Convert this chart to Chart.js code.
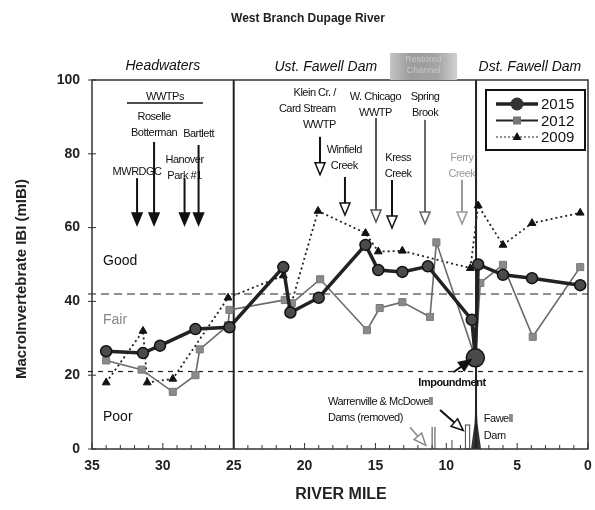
<!DOCTYPE html>
<html>
<head>
<meta charset="utf-8">
<script src="https://cdn.jsdelivr.net/npm/chart.js@4.4.1/dist/chart.umd.min.js"></script>
<style>
  html, body { margin: 0; padding: 0; background: #fff; }
  #wrap { width: 595px; height: 510px; }
</style>
</head>
<body>
<div id="wrap"><canvas id="mibiChart" width="595" height="510"></canvas></div>
<script>
// River mile / mIBI score pairs
const miles2015 = [34.0, 31.4, 30.2, 27.7, 25.3, 21.5, 21.0, 19.0, 15.7, 14.8, 13.1, 11.3, 8.2, 7.95, 7.75, 6.0, 3.95, 0.55];
const ibi2015   = [26.5, 26, 28, 32.5, 33, 49.3, 37, 41, 55.3, 48.5, 48, 49.5, 35, 24.7, 50, 47.2, 46.3, 44.4];

const miles2012 = [34.0, 31.5, 29.3, 27.7, 27.4, 25.4, 25.3, 21.4, 20.9, 18.9, 15.6, 14.7, 13.1, 11.15, 10.7, 7.95, 7.6, 6.0, 3.9, 0.55];
const ibi2012   = [24, 21.5, 15.5, 20, 27, 33.5, 37.7, 40.4, 39.5, 46, 32.2, 38.2, 39.8, 35.8, 56, 24.7, 45, 49.9, 30.4, 49.3];

const miles2009 = [34.0, 31.4, 31.1, 29.3, 25.4, 21.5, 21.0, 19.05, 15.7, 14.8, 13.1, 8.3, 7.75, 6.0, 3.95, 0.55];
const ibi2009   = [18, 32, 18, 19, 41, 47, 38.5, 64.5, 58.5, 53.5, 53.7, 49, 66, 55.3, 61.2, 64];

const xTicks = [35, 30, 25, 20, 15, 10, 5, 0];
const yTicks = [0, 20, 40, 60, 80, 100];
const ratingBreaks = [42, 21];          // Good/Fair, Fair/Poor
const ratingLabels = [['Good', 51], ['Fair', 35], ['Poor', 8.5]];
const sectionDividers = [25, 7.9];      // headwaters end, Fawell Dam
const impoundmentMile = 7.95;

const FONT = '"Liberation Sans", Arial, sans-serif';

function pts(xs, ys) {
    return xs.map((x, i) => ({ x: x, y: ys[i] }));
}

// annotation callouts (mile, score)
const wwtpArrows = [
    { label: ['MWRDGC'], m: 31.82, tv: 75.1, from: 73.4 },
    { label: ['Roselle', 'Botterman'], m: 30.62, tv: 90, from: 83.2 },
    { label: ['Hanover', 'Park #1'], m: 28.47, tv: 78.3, from: 73.4 },
    { label: ['Bartlett'], m: 27.48, tv: 85.4, from: 82.4 }
];
const inflowArrows = [
    { label: ['Klein Cr. /', 'Card Stream', 'WWTP'], tm: 17.8, tv: 96.5, align: 'right', m: 18.91, from: 84.6, to: 74.3, color: '#111' },
    { label: ['Winfield', 'Creek'], tm: 17.2, tv: 81, align: 'center', m: 17.15, from: 73.7, to: 63.4, color: '#111' },
    { label: ['W. Chicago', 'WWTP'], tm: 15.0, tv: 95.4, align: 'center', m: 14.96, from: 89.7, to: 61.5, color: '#555' },
    { label: ['Kress', 'Creek'], tm: 13.4, tv: 78.9, align: 'center', m: 13.83, from: 72.9, to: 59.9, color: '#111' },
    { label: ['Spring', 'Brook'], tm: 11.5, tv: 95.4, align: 'center', m: 11.5, from: 89.2, to: 61, color: '#666' },
    { label: ['Ferry', 'Creek'], tm: 8.9, tv: 78.9, align: 'center', m: 8.89, from: 72.9, to: 61, color: '#999' }
];

function arrow(ctx, x1, y1, x2, y2, hollow, color, lw) {
    const ang = Math.atan2(y2 - y1, x2 - x1);
    const hl = 12, hw = 5;
    const bx = x2 - hl * Math.cos(ang), by = y2 - hl * Math.sin(ang);
    ctx.strokeStyle = color;
    ctx.lineWidth = lw || 2;
    ctx.beginPath(); ctx.moveTo(x1, y1); ctx.lineTo(bx, by); ctx.stroke();
    ctx.beginPath();
    ctx.moveTo(x2, y2);
    ctx.lineTo(bx + hw * Math.sin(ang), by - hw * Math.cos(ang));
    ctx.lineTo(bx - hw * Math.sin(ang), by + hw * Math.cos(ang));
    ctx.closePath();
    ctx.fillStyle = hollow ? '#fff' : color;
    ctx.fill();
    ctx.lineWidth = 1.5;
    ctx.stroke();
}

function lines(ctx, arr, x, y, lh) {
    arr.forEach((t, i) => ctx.fillText(t, x, y + i * lh));
}

const overlay = {
    id: 'overlay',
    beforeDatasetsDraw(chart) {
        const { ctx, chartArea: a, scales: { x, y } } = chart;
        ctx.save();
        // rating thresholds
        ctx.strokeStyle = '#222';
        ctx.lineWidth = 1.2;
        ratingBreaks.forEach((b, i) => {
            ctx.setLineDash(i === 0 ? [8, 5] : [5, 5]);
            const py = y.getPixelForValue(b);
            ctx.beginPath(); ctx.moveTo(a.left - 4, py); ctx.lineTo(a.right, py); ctx.stroke();
        });
        ctx.setLineDash([]);
        // rating labels
        ctx.font = '14px ' + FONT;
        ctx.textAlign = 'left';
        ctx.textBaseline = 'middle';
        ratingLabels.forEach(([t, v]) => {
            ctx.fillStyle = t === 'Fair' ? '#888' : '#111';
            ctx.fillText(t, a.left + 11, y.getPixelForValue(v));
        });
        // dams near the bottom
        ctx.strokeStyle = '#444';
        ctx.lineWidth = 1;
        [11.0, 10.8].forEach(m => {
            const px = x.getPixelForValue(m);
            ctx.beginPath(); ctx.moveTo(px, a.bottom); ctx.lineTo(px, y.getPixelForValue(6)); ctx.stroke();
        });
        let px = x.getPixelForValue(9.6);
        ctx.beginPath(); ctx.moveTo(px, a.bottom); ctx.lineTo(px, y.getPixelForValue(2.4)); ctx.stroke();
        const r1 = x.getPixelForValue(8.65), r2 = x.getPixelForValue(8.35);
        ctx.strokeRect(r1, y.getPixelForValue(6.5), r2 - r1, a.bottom - y.getPixelForValue(6.5));
        // Fawell dam spike
        px = x.getPixelForValue(sectionDividers[1]);
        ctx.fillStyle = '#333';
        ctx.beginPath();
        ctx.moveTo(px - 5, a.bottom);
        ctx.lineTo(px - 1.5, y.getPixelForValue(7));
        ctx.lineTo(px, y.getPixelForValue(14.6));
        ctx.lineTo(px + 1.5, y.getPixelForValue(7));
        ctx.lineTo(px + 5, a.bottom);
        ctx.closePath();
        ctx.fill();
        // section dividers
        ctx.strokeStyle = '#222';
        ctx.lineWidth = 2;
        sectionDividers.forEach(m => {
            const p = x.getPixelForValue(m);
            ctx.beginPath(); ctx.moveTo(p, a.top); ctx.lineTo(p, a.bottom); ctx.stroke();
        });
        ctx.restore();
    },
    afterDatasetsDraw(chart) {
        const { ctx, chartArea: a, scales: { x, y } } = chart;
        ctx.save();
        // frame
        ctx.strokeStyle = '#333';
        ctx.lineWidth = 1.5;
        ctx.strokeRect(a.left, a.top, a.right - a.left, a.bottom - a.top);
        // ticks
        ctx.lineWidth = 1;
        for (let m = 0; m <= 35; m++) {
            const p = x.getPixelForValue(m);
            ctx.beginPath(); ctx.moveTo(p, a.bottom); ctx.lineTo(p, a.bottom - (m % 5 === 0 ? 6 : 4)); ctx.stroke();
        }
        yTicks.forEach(v => {
            const p = y.getPixelForValue(v);
            ctx.beginPath(); ctx.moveTo(a.left - 4, p); ctx.lineTo(a.left + 4, p); ctx.stroke();
        });

        // section headers
        ctx.font = 'italic 14px ' + FONT;
        ctx.fillStyle = '#111';
        ctx.textAlign = 'center';
        ctx.textBaseline = 'middle';
        ctx.fillText('Headwaters', x.getPixelForValue(30.0), 66);
        ctx.fillText('Ust. Fawell Dam', x.getPixelForValue(18.5), 67);
        ctx.fillText('Dst. Fawell Dam', x.getPixelForValue(4.1), 67);
        const b1 = x.getPixelForValue(13.97), b2 = x.getPixelForValue(9.24);
        const g = ctx.createLinearGradient(b1, 0, b2, 0);
        g.addColorStop(0, '#c4c4c4'); g.addColorStop(0.3, '#9c9c9c'); g.addColorStop(0.7, '#a3a3a3'); g.addColorStop(1, '#d0d0d0');
        ctx.fillStyle = g;
        ctx.fillRect(b1, 53, b2 - b1, a.top - 53);
        ctx.fillStyle = '#c8c8c8';
        ctx.font = '9px ' + FONT;
        ctx.fillText('Restored', (b1 + b2) / 2, 60);
        ctx.fillText('Channel', (b1 + b2) / 2, 71);

        // WWTP arrows
        ctx.font = '11px ' + FONT;
        ctx.fillStyle = '#111';
        ctx.textAlign = 'center';
        ctx.textBaseline = 'middle';
        ctx.letterSpacing = '-0.5px';
        const wx = x.getPixelForValue(29.85), wy = y.getPixelForValue(95.4);
        ctx.fillText('WWTPs', wx, wy);
        ctx.lineWidth = 1.5;
        ctx.strokeStyle = '#111';
        ctx.beginPath();
        ctx.moveTo(x.getPixelForValue(32.53), y.getPixelForValue(93.8));
        ctx.lineTo(x.getPixelForValue(27.17), y.getPixelForValue(93.8));
        ctx.stroke();
        wwtpArrows.forEach(w => {
            const px = x.getPixelForValue(w.m);
            lines(ctx, w.label, px, y.getPixelForValue(w.tv), 16);
            arrow(ctx, px, y.getPixelForValue(w.from), px, y.getPixelForValue(60.7), false, '#111', 2);
        });

        // tributary / outfall arrows
        inflowArrows.forEach(f => {
            ctx.fillStyle = f.color === '#999' ? '#999' : '#111';
            ctx.textAlign = f.align;
            lines(ctx, f.label, x.getPixelForValue(f.tm), y.getPixelForValue(f.tv), 16);
            const px = x.getPixelForValue(f.m);
            arrow(ctx, px, y.getPixelForValue(f.from), px, y.getPixelForValue(f.to), true, f.color, 2);
        });

        // impoundment
        ctx.textAlign = 'center';
        ctx.fillStyle = '#111';
        ctx.font = 'bold 11px ' + FONT;
        ctx.fillText('Impoundment', x.getPixelForValue(9.6), y.getPixelForValue(17.8));
        arrow(ctx, x.getPixelForValue(9.5), y.getPixelForValue(20.8), x.getPixelForValue(8.25), y.getPixelForValue(24.2), false, '#111', 2);

        // dams text
        ctx.font = '11px ' + FONT;
        ctx.textAlign = 'left';
        lines(ctx, ['Warrenville & McDowell', 'Dams (removed)'], x.getPixelForValue(18.35), y.getPixelForValue(12.7), 16);
        lines(ctx, ['Fawell', 'Dam'], x.getPixelForValue(7.35), y.getPixelForValue(8.2), 17);
        arrow(ctx, x.getPixelForValue(12.56), y.getPixelForValue(5.9), x.getPixelForValue(11.45), y.getPixelForValue(1.0), true, '#888', 1.5);
        arrow(ctx, x.getPixelForValue(10.44), y.getPixelForValue(10.6), x.getPixelForValue(8.8), y.getPixelForValue(5.0), true, '#111', 2);
        ctx.letterSpacing = '0px';

        // legend
        const lx = a.right - 102, ly = a.top + 10;
        ctx.fillStyle = '#fff';
        ctx.fillRect(lx, ly, 99, 60);
        ctx.strokeStyle = '#111';
        ctx.lineWidth = 2;
        ctx.strokeRect(lx, ly, 99, 60);
        const rows = [
            { t: '2015', w: 3.5, dash: [], mk: 'circle' },
            { t: '2012', w: 1.8, dash: [], mk: 'rect' },
            { t: '2009', w: 1, dash: [2, 2], mk: 'tri' }
        ];
        rows.forEach((r, i) => {
            const yy = ly + 14 + i * 16.5;
            ctx.strokeStyle = '#222';
            ctx.lineWidth = r.w;
            ctx.setLineDash(r.dash);
            ctx.beginPath(); ctx.moveTo(lx + 10, yy); ctx.lineTo(lx + 52, yy); ctx.stroke();
            ctx.setLineDash([]);
            const cx = lx + 31;
            if (r.mk === 'circle') {
                ctx.fillStyle = '#333';
                ctx.beginPath(); ctx.arc(cx, yy, 6.5, 0, Math.PI * 2); ctx.fill();
            } else if (r.mk === 'rect') {
                ctx.fillStyle = '#777';
                ctx.fillRect(cx - 4, yy - 4, 8, 8);
            } else {
                ctx.fillStyle = '#111';
                ctx.beginPath(); ctx.moveTo(cx, yy - 5); ctx.lineTo(cx + 4.5, yy + 3); ctx.lineTo(cx - 4.5, yy + 3); ctx.closePath(); ctx.fill();
            }
            ctx.fillStyle = '#111';
            ctx.font = '15px ' + FONT;
            ctx.textAlign = 'left';
            ctx.fillText(r.t, lx + 55, yy + 1);
        });

        // titles
        ctx.fillStyle = '#222';
        ctx.font = 'bold 12px ' + FONT;
        ctx.textAlign = 'center';
        ctx.fillText('West Branch Dupage River', 308, 19);
        ctx.font = 'bold 16px ' + FONT;
        ctx.fillText('RIVER MILE', 341, 495);
        ctx.translate(22, 279);
        ctx.rotate(-Math.PI / 2);
        ctx.font = 'bold 15px ' + FONT;
        ctx.fillText('MacroInvertebrate IBI (mIBI)', 0, 0);
        ctx.restore();
    }
};

const impIdx = miles2015.indexOf(impoundmentMile);

new Chart(document.getElementById('mibiChart').getContext('2d'), {
    type: 'scatter',
    data: {
        datasets: [
            {
                label: '2015',
                data: pts(miles2015, ibi2015),
                showLine: true,
                borderColor: '#222',
                borderWidth: 3.5,
                backgroundColor: '#4a4a4a',
                pointBorderColor: '#111',
                pointBorderWidth: 1.5,
                pointStyle: 'circle',
                pointRadius: c => c.dataIndex === impIdx ? 9 : 5.5
            },
            {
                label: '2012',
                data: pts(miles2012, ibi2012),
                showLine: true,
                borderColor: '#6a6a6a',
                borderWidth: 1.6,
                backgroundColor: '#8a8a8a',
                pointBorderColor: '#7a7a7a',
                pointBorderWidth: 1,
                pointStyle: 'rect',
                pointRadius: 5
            },
            {
                label: '2009',
                data: pts(miles2009, ibi2009),
                showLine: true,
                borderColor: '#222',
                borderWidth: 1.8,
                borderDash: [2, 3],
                backgroundColor: '#111',
                pointBorderColor: '#111',
                pointBorderWidth: 1,
                pointStyle: 'triangle',
                pointRadius: 4.5
            }
        ]
    },
    options: {
        responsive: false,
        animation: false,
        layout: { padding: { top: 80, right: 7, bottom: 0, left: 0 } },
        plugins: {
            legend: { display: false },
            title: { display: false },
            tooltip: { enabled: false }
        },
        scales: {
            x: {
                type: 'linear',
                min: 0,
                max: 35,
                reverse: true,
                afterBuildTicks: s => { s.ticks = xTicks.map(v => ({ value: v })); },
                afterFit: s => { s.height = 61; s.paddingLeft = 0; s.paddingRight = 0; },
                grid: { display: false, drawTicks: false },
                border: { display: false },
                ticks: { padding: 9, color: '#222', font: { family: FONT, size: 14, weight: 'bold' }, maxRotation: 0 }
            },
            y: {
                min: 0,
                max: 100,
                afterBuildTicks: s => { s.ticks = yTicks.map(v => ({ value: v })); },
                afterFit: s => { s.width = 92; s.paddingTop = 0; s.paddingBottom = 0; },
                grid: { display: false, drawTicks: false },
                border: { display: false },
                ticks: { padding: 12, color: '#222', font: { family: FONT, size: 14, weight: 'bold' } }
            }
        }
    },
    plugins: [overlay]
});
</script>
</body>
</html>
